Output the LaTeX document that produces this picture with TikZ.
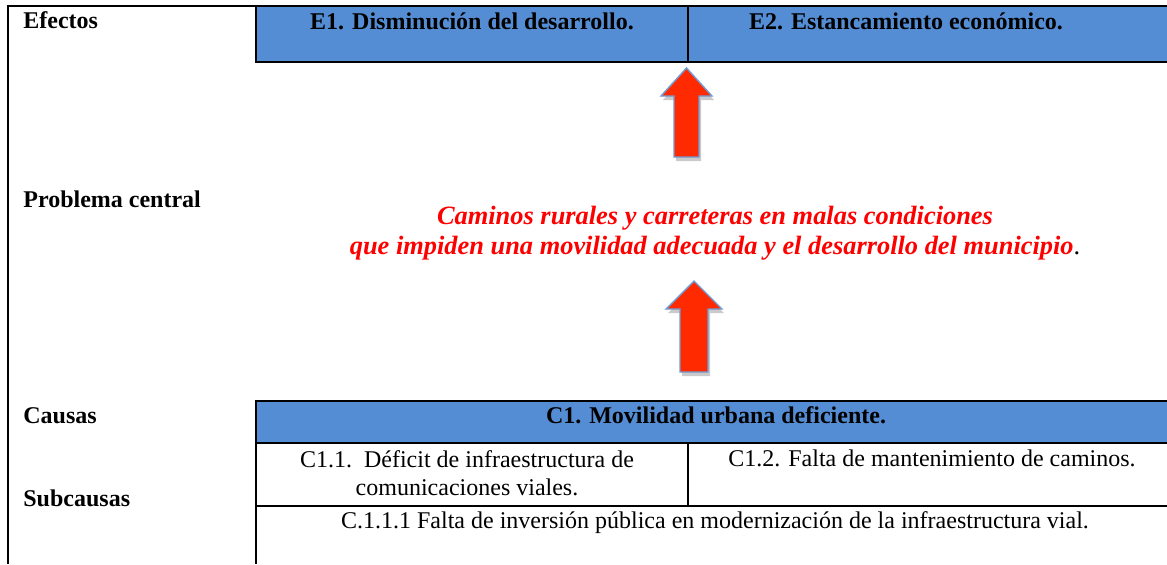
\documentclass[tikz,border=0pt]{standalone}
\usepackage{fontspec}
\setmainfont{Liberation Serif}
\usepackage{xcolor}
\usetikzlibrary{shadows}
\definecolor{cellblue}{HTML}{548DD4}
\definecolor{arrowred}{HTML}{FF2A00}
\definecolor{arrowedge}{HTML}{6F9DD6}

\begin{document}
\begin{tikzpicture}[x=0.5pt, y=-0.5pt,
  rule/.style={line width=1.25pt},
  divider/.style={line width=1pt},
  rowname/.style={anchor=base west, inner sep=0, font=\fontsize{12}{14}\selectfont\bfseries},
  headtext/.style={anchor=base, inner sep=0, font=\fontsize{12}{14}\selectfont\bfseries},
  cell/.style={anchor=base, inner sep=0, align=center, font=\fontsize{12}{14}\selectfont},
  uparrow/.style={fill=arrowred, draw=arrowedge, line width=0.7pt,
    drop shadow={shadow xshift=1pt, shadow yshift=-2pt, opacity=0.35, fill=black!60}}]
\useasboundingbox (0,0) rectangle (1167,564);

% Efectos row
\fill[cellblue] (256,6) rectangle (1167,62);
\draw[rule] (8,564) -- (8,6) -- (1167,6);
\draw[rule] (256,6) -- (256,62) -- (1167,62);
\draw[divider] (688,6) -- (688,62);
\node[rowname] (efectos) at (23,28) {Efectos};
\node[headtext] (e1) at (472,29) {E1. Disminución del desarrollo.};
\node[headtext] (e2) at (906,29) {E2. Estancamiento económico.};

% Problema central (base anchor sits on the last line)
\node[rowname] (problema) at (23,207) {Problema central};
\node[anchor=base, inner sep=0, align=center, text=red,
  font=\fontsize{13.2}{15}\selectfont\bfseries\itshape] (central) at (715,254)
  {Caminos rurales y carreteras en malas condiciones\\
   que impiden una movilidad adecuada y el desarrollo del municipio\textcolor{black}{\normalfont.}};

% Block arrows
\filldraw[uparrow] (686.5,68) -- (712,96) -- (699,96) -- (699,157) -- (674,157) -- (674,96) -- (661,96) -- cycle;
\filldraw[uparrow] (694,281) -- (722,309) -- (708,309) -- (708,372) -- (680,372) -- (680,309) -- (666,309) -- cycle;

% Causas and subcausas
\fill[cellblue] (256,401) rectangle (1167,443);
\draw[rule] (256,564) -- (256,401) -- (1167,401);
\draw[rule] (256,443) -- (1167,443);
\draw[rule] (256,506) -- (1167,506);
\draw[divider] (688,443) -- (688,506);
\node[rowname] (causas) at (23,423) {Causas};
\node[rowname] (subcausas) at (23,506) {Subcausas};
\node[headtext] (c1) at (716,423) {C1. Movilidad urbana deficiente.};
\node[cell] (c11) at (467,495) {C1.1.\ \ Déficit de infraestructura de\\comunicaciones viales.};
\node[cell] (c12) at (932,466) {C1.2. Falta de mantenimiento de caminos.};
\node[cell] (c111) at (715,528) {C.1.1.1 Falta de inversión pública en modernización de la infraestructura vial.};
\end{tikzpicture}
\end{document}
